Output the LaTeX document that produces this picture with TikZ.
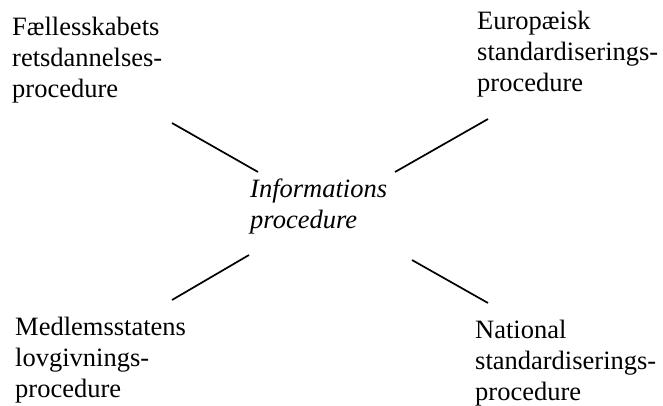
\documentclass[tikz,border=0pt]{standalone}
\usepackage{fontspec}
\setmainfont{Liberation Serif}
\usepackage{tikz}

\begin{document}
\begin{tikzpicture}[x=1pt, y=-1pt,
  txt/.style={anchor=base west, inner sep=0pt, align=left,
    font=\fontsize{26.5}{31}\selectfont}]
\useasboundingbox (0,0) rectangle (663,405);
% last baseline of each block
\node[txt] (fret) at (12,97) {Fællesskabets\\retsdannelses-\\procedure};
\node[txt] (euro) at (477,91) {Europæisk\\standardiserings-\\procedure};
\node[txt] (info) at (250,228) {\itshape Informations\\\itshape procedure};
\node[txt] (medl) at (15,397) {Medlemsstatens\\lovgivnings-\\procedure};
\node[txt] (nat) at (475,400) {National\\standardiserings-\\procedure};
\coordinate (A) at (172,123);
\coordinate (B) at (258,172);
\coordinate (C) at (488,119);
\coordinate (D) at (395,172);
\coordinate (E) at (249,255);
\coordinate (F) at (172,300);
\coordinate (G) at (412,260);
\coordinate (H) at (488,303);
\foreach \p/\q in {A/B,C/D,E/F,G/H}{
    \draw[black, line width=1.7pt] (\p) -- (\q);
}
\end{tikzpicture}
\end{document}
